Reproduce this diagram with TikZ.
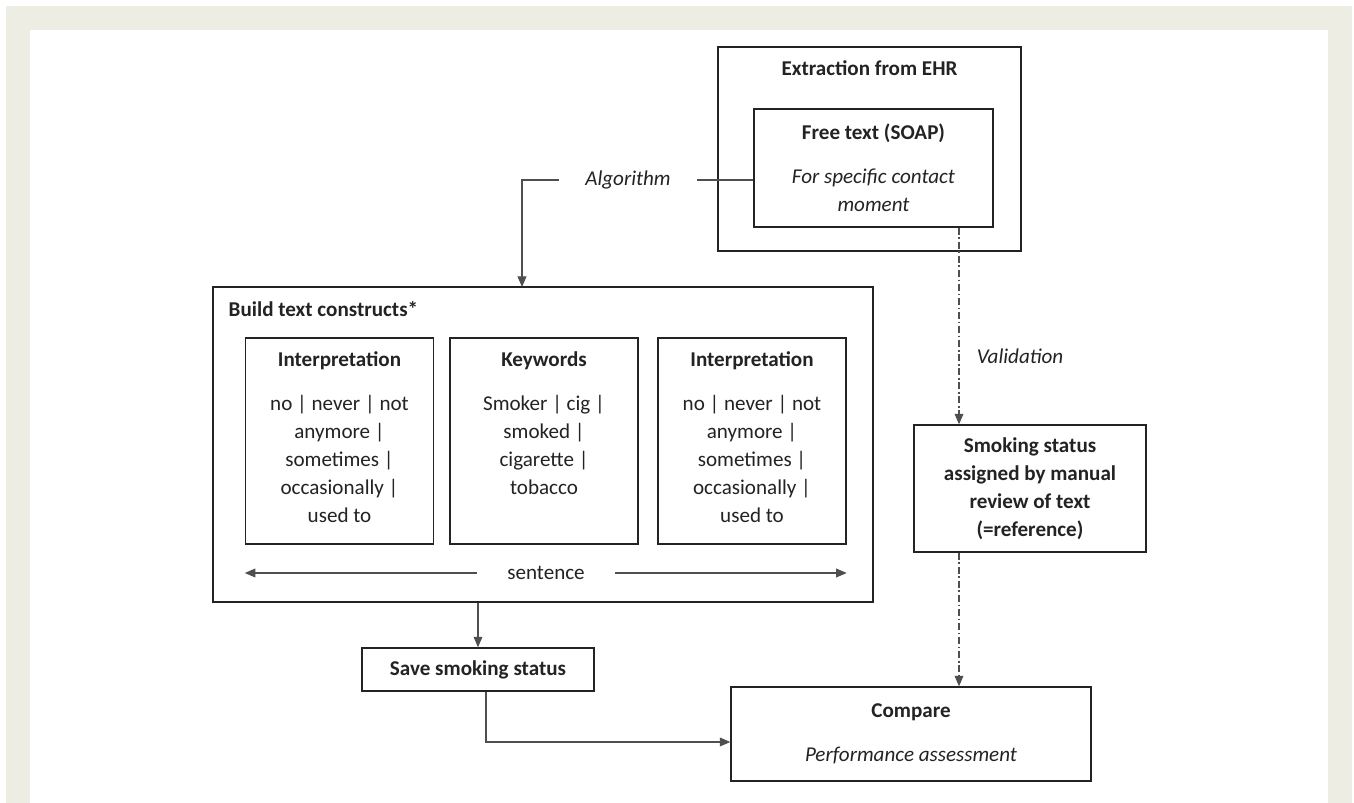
\documentclass[tikz,border=0pt,12pt]{standalone}
\usepackage{fontspec}
\setmainfont{Carlito}
\linespread{1.1}
\usetikzlibrary{arrows.meta,positioning}
\definecolor{framebg}{RGB}{238,237,227}
\definecolor{ink}{RGB}{35,35,35}
\tikzset{
  box/.style={draw=ink, line width=0.8pt, rectangle},
  txt/.style={align=center, text=ink},
  link/.style={draw=ink!80, line width=0.6pt},
  valid/.style={link, dash pattern=on 4pt off 1.5pt on 1pt off 1.5pt},
}
\newcommand{\interplist}{no | never | not\\anymore |\\sometimes |\\occasionally |\\used to}

\begin{document}
\begin{tikzpicture}[>={Triangle[length=6pt,width=5pt]}, x=0.02cm, y=-0.02cm]
% frame
\fill[white](0,0)rectangle(1354,803);
\fill[framebg](6,6)rectangle(1352,803);
\fill[white](30,30)rectangle(1328,803);
\useasboundingbox(0,0)rectangle(1354,803);

\node[box, minimum width=6.06cm, minimum height=4.08cm](ehr) at (869.5,149){};
\node[txt, below=0.14cm of ehr.north](ehrtitle){\textbf{Extraction from EHR}};
\node[box, txt, minimum width=4.78cm, minimum height=2.36cm](soap) at (873.5,168){\textbf{Free text (SOAP)}\\[9pt]\textit{For specific contact}\\\textit{moment}};

\node[box, minimum width=13.2cm, minimum height=6.3cm](build) at (543,444.5){};
\node[txt, anchor=north west](buildtitle) at ([xshift=0.18cm,yshift=-0.16cm]build.north west){\textbf{Build text constructs*}};

\node[box, minimum width=3.76cm, minimum height=4.12cm](interpA) at (339.5,441){};
\node[txt, below=0.14cm of interpA.north](interpAtext){\textbf{Interpretation}\\[9pt]\interplist};
\node[box, minimum width=3.76cm, minimum height=4.12cm](keyw) at (544,441){};
\node[txt, below=0.14cm of keyw.north](keywtext){\textbf{Keywords}\\[9pt]Smoker | cig |\\smoked |\\cigarette |\\tobacco};
\node[box, minimum width=3.76cm, minimum height=4.12cm](interpB) at (752,441){};
\node[txt, below=0.14cm of interpB.north](interpBtext){\textbf{Interpretation}\\[9pt]\interplist};

\node[txt, inner xsep=0.6cm](sentence) at (546,573){sentence};
\draw[link,->](sentence.west)--(sentence.west -| interpA.west);
\draw[link,->](sentence.east)--(sentence.east -| interpB.east);

\node[txt, inner xsep=0.52cm](alg) at (628,180){\textit{Algorithm}};
\coordinate(buildin) at (522,287);
\draw[link](soap.west |- alg)--(alg.east);
\draw[link,->](alg.west)-|(buildin);

\coordinate(vx) at (959,0);
\node[box, txt, font=\bfseries, minimum width=4.64cm, minimum height=2.54cm](smoking) at (1030,488.5){Smoking status\\assigned by manual\\review of text\\(=reference)};
\node[txt](valid) at (1020,356){\textit{Validation}};
\draw[valid,->](soap.south -| vx)--(smoking.north -| vx);

\node[box, txt, font=\bfseries, minimum width=4.64cm, minimum height=0.86cm](save) at (478,669.5){Save smoking status};
\node[box, txt, minimum width=7.2cm, minimum height=1.88cm](compare) at (911,734){\textbf{Compare}\\[9pt]\textit{Performance assessment}};
\draw[link,->](build.south -| save.north)--(save.north);
\draw[link,->]([xshift=0.16cm]save.south)|-([yshift=-0.16cm]compare.west);
\draw[valid,->](smoking.south -| vx)--(compare.north -| vx);
\end{tikzpicture}
\end{document}
